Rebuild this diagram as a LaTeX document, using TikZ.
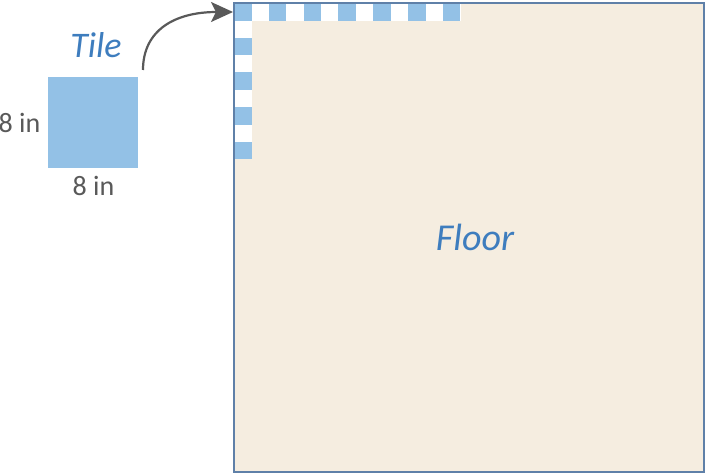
\documentclass[tikz,border=0pt]{standalone}
\usepackage{fontspec}
\setmainfont{Carlito}
\usetikzlibrary{arrows.meta}
\definecolor{tileblue}{RGB}{147, 193, 230}
\definecolor{floorbeige}{RGB}{245, 237, 224}
\definecolor{edge}{RGB}{95, 128, 168}
\definecolor{ink}{RGB}{62, 125, 190}
\definecolor{dim}{RGB}{89, 89, 89}

\begin{document}
\begin{tikzpicture}[x=1pt, y=-1pt, thick]

  \useasboundingbox (0, 0) rectangle (706, 476);

  % the floor
  \node[fill=floorbeige, minimum width=469pt, minimum height=468pt,
    inner sep=0, anchor=north west] (floor) at (234, 3) {};
  \fill[white] (234, 3) rectangle (460.5, 21);
  \fill[white] (234, 3) rectangle (252, 159);
  \foreach \i in {0, 1,..., 6} {
    \fill[tileblue] ({234 + 34.8 * \i}, 3) rectangle ++(17.6, 18);
  }
  \foreach \j in {1, 2,..., 4} {
    \fill[tileblue] (234, {3 + 34.7 * \j}) rectangle ++(18, 17.4);
  }
  \draw[edge, line width=1.5pt] (floor.north west) rectangle (floor.south east);
  \node[text=ink, font=\fontsize{38}{40}\selectfont\itshape] (floorlabel)
    at (475, 237) {Floor};

  % one tile
  \node[fill=tileblue, minimum width=90pt, minimum height=91pt, inner sep=0,
    anchor=north west] (tile) at (48, 77) {};
  \node[text=ink, font=\fontsize{36}{38}\selectfont\itshape] (tilelabel)
    at (96, 45) {Tile};
  \node[text=dim, font=\fontsize{28}{30}\selectfont, left=4pt] (sidelabel)
    at (tile.west) {8 in};
  \node[text=dim, font=\fontsize{28}{30}\selectfont, below=4pt] (baselabel)
    at (tile.south) {8 in};

  \coordinate (from) at (143, 70);
  \coordinate (to) at (233, 12);
  \draw[dim, line width=2.2pt, -{Stealth[length=22pt, width=20pt, inset=5pt]}]
    (from) .. controls (143, 30) and (175, 12) .. (to);

\end{tikzpicture}
\end{document}
